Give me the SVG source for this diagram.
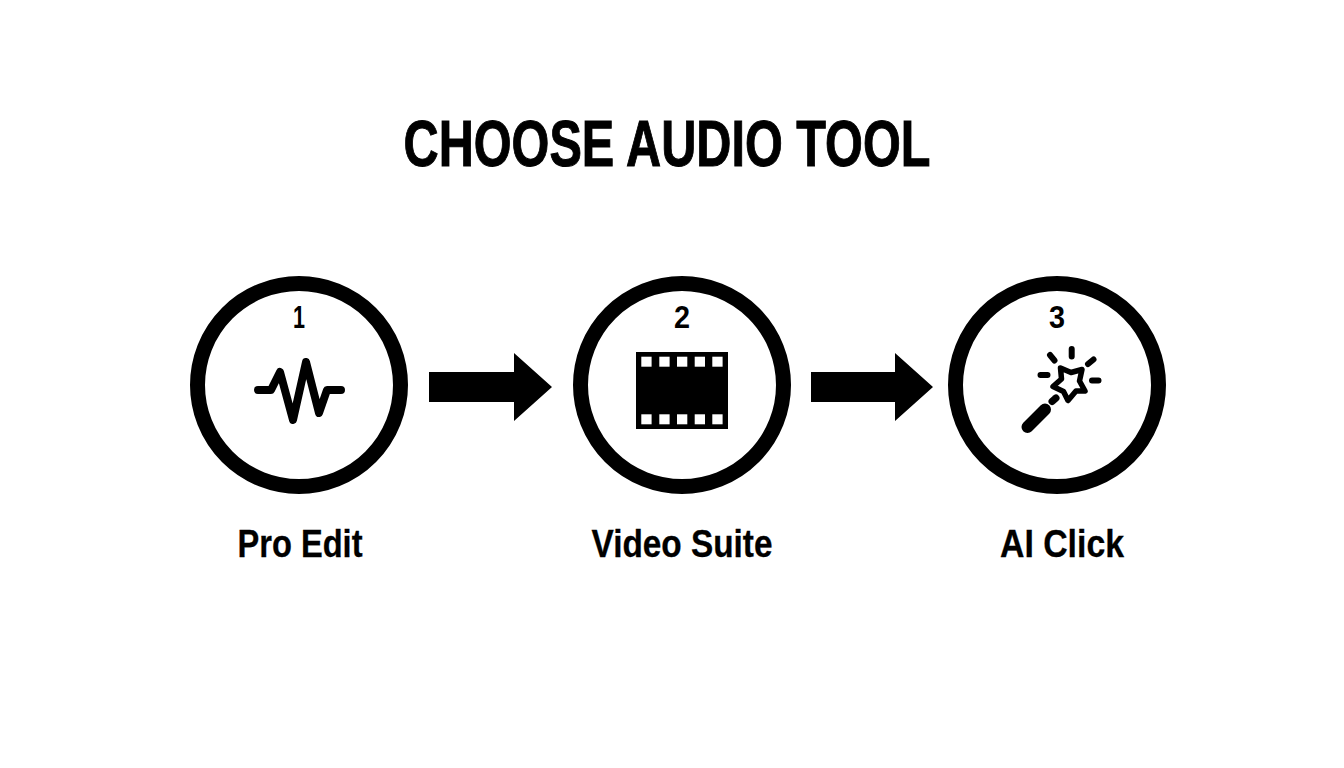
<svg xmlns="http://www.w3.org/2000/svg" width="1344" height="768" viewBox="0 0 1344 768">
<style>
text{font-family:"Liberation Sans",Arial,sans-serif;font-weight:700;fill:#000;text-anchor:middle}
.ring{fill:#fff;stroke:#000;stroke-width:15}
.num{font-size:32px}
.label{font-size:38px;stroke:#000;stroke-width:.3}
.ico{fill:none;stroke:#000;stroke-linecap:round;stroke-linejoin:round}
.hole{fill:#fff}
</style>
<rect width="1344" height="768" fill="#fff"/>
<text id="title" x="667" y="165.500" font-size="64" textLength="527" lengthAdjust="spacingAndGlyphs" stroke="#000" stroke-width="1">CHOOSE AUDIO TOOL</text>
<g id="connectors">
<polygon points="429,372 514,372 514,353 552,387 514,421 514,402 429,402"/>
<polygon points="811,372 895,372 895,353 933,387 895,421 895,402 811,402"/>
</g>
<g id="node1">
<circle class="ring" cx="299" cy="385" r="101.500"/>
<text class="num" x="299" y="328" textLength="12" lengthAdjust="spacingAndGlyphs">1</text>
<path class="ico" stroke-width="8" d="M258,390H271L280,372L293,420L306,362L319,413L327,390H341"/>
<text class="label" x="300" y="557" textLength="125" lengthAdjust="spacingAndGlyphs">Pro Edit</text>
</g>
<g id="node2">
<circle class="ring" cx="682" cy="385" r="101.500"/>
<text class="num" x="682" y="328" textLength="16" lengthAdjust="spacingAndGlyphs">2</text>
<rect x="636" y="352" width="92" height="77"/>
<g class="hole">
<rect x="641.300" y="356.700" width="10.300" height="10"/>
<rect x="659.300" y="356.700" width="10.300" height="10"/>
<rect x="677" y="356.700" width="10.300" height="10"/>
<rect x="694.700" y="356.700" width="10.300" height="10"/>
<rect x="712.300" y="356.700" width="10.300" height="10"/>
<rect x="641.300" y="414.300" width="10.300" height="10"/>
<rect x="659.300" y="414.300" width="10.300" height="10"/>
<rect x="677" y="414.300" width="10.300" height="10"/>
<rect x="694.700" y="414.300" width="10.300" height="10"/>
<rect x="712.300" y="414.300" width="10.300" height="10"/>
</g>
<text class="label" x="682" y="557" textLength="181" lengthAdjust="spacingAndGlyphs">Video Suite</text>
</g>
<g id="node3">
<circle class="ring" cx="1057" cy="385" r="101.500"/>
<text class="num" x="1057" y="328" textLength="16" lengthAdjust="spacingAndGlyphs">3</text>
<path class="ico" stroke-width="5.500" d="M1060.500,368L1071,372.500L1082,369.500L1079.500,381L1085,391L1076,391L1068,400.500L1063.500,391.500L1053,386.500L1061.500,379Z"/>
<path class="ico" stroke-width="6" d="M1050,355L1054.500,360.500M1071.700,349V356.500M1088,364L1093.500,359.500M1040.500,375H1047.500M1092,380.500H1098.500"/>
<path class="ico" stroke-width="7" d="M1052,401.500L1056,398"/>
<path class="ico" stroke-width="12" d="M1027.500,427L1045,409.500"/>
<text class="label" x="1062" y="557" textLength="124" lengthAdjust="spacingAndGlyphs">AI Click</text>
</g>
</svg>
